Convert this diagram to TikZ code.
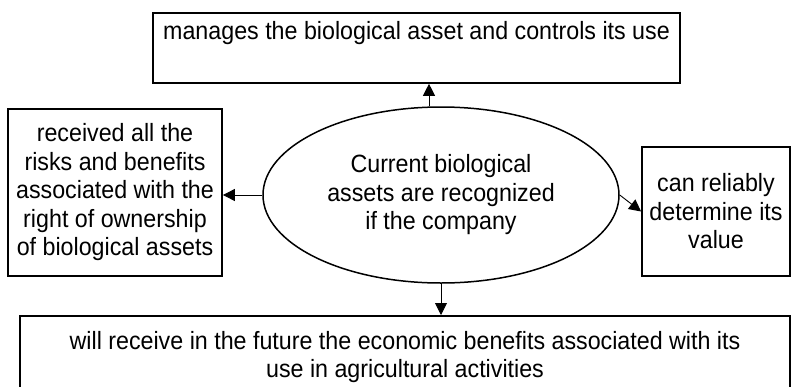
\documentclass[tikz,border=0pt]{standalone}
\usepackage{fontspec}
\setmainfont{Liberation Sans}[FakeStretch=0.93]
\usetikzlibrary{shapes.geometric,arrows.meta}

\begin{document}
\begin{tikzpicture}[x=1pt,y=-1pt,
	font=\fontsize{25}{28.5}\selectfont,
	box/.style={draw,line width=1.8pt,rectangle,inner sep=0pt,align=center},
	arr/.style={line width=0.9pt,-{Triangle[length=12pt,width=12pt]}}]
\useasboundingbox (0,0) rectangle (793,386);
\clip (0,0) rectangle (793,386);

\node[box,anchor=north,minimum width=527pt,text height=27pt,text depth=43pt] (manages) at (416.5,12) {manages the biological asset and controls its use};
\node[box,minimum width=214pt,minimum height=167pt] (risks) at (115,192.5) {received all the\\risks and benefits\\associated with the\\right of ownership\\of biological assets};
\node[box,minimum width=148pt,minimum height=129pt] (value) at (716,211.5) {can reliably\\determine its\\value};
\node[box,anchor=north,minimum width=770pt,inner ysep=15pt] (future) at (405,315) {will receive in the future the economic benefits associated with its\\use in agricultural activities};

\node[ellipse,draw,line width=1.5pt,minimum width=356pt,minimum height=176pt,inner sep=0pt,align=center] (company) at (441,195) {Current biological\\assets are recognized\\if the company};

\coordinate (up) at ([xshift=-12pt]company.north);

\foreach \from/\to in {up/up |- manages.south, company.south/company.south |- future.north, company.west/company.west -| risks.east, company.east/value.west}
	\draw[arr] (\from) -- (\to);

\end{tikzpicture}
\end{document}
